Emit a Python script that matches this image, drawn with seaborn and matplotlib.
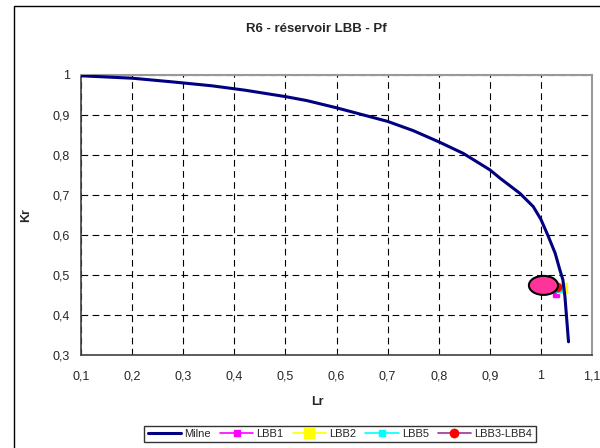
import matplotlib
matplotlib.use("Agg")
import matplotlib.pyplot as plt
from matplotlib.patches import Ellipse, Rectangle
from matplotlib.ticker import FuncFormatter, MultipleLocator
import pandas as pd
import seaborn as sns

# Milne curve
milne_lr = [0.1, 0.2, 0.277, 0.356, 0.421, 0.5, 0.542, 0.6, 0.7, 0.75, 0.8,
            0.848, 0.9, 0.92, 0.959, 0.985, 1.0, 1.014, 1.028, 1.037,
            1.043, 1.047, 1.054]
milne_kr = [0.998, 0.992, 0.983, 0.973, 0.962, 0.946, 0.936, 0.918, 0.884,
            0.861, 0.833, 0.804, 0.763, 0.742, 0.704, 0.671, 0.639, 0.598,
            0.554, 0.513, 0.488, 0.446, 0.333]

# single points
point_names = ["LBB1", "LBB2", "LBB5", "LBB3-LBB4"]
point_lr = [1.029, 1.041, 1.035, 1.031]
point_kr = [0.452, 0.467, 0.465, 0.471]

# highlight ellipse drawn over the points
ellipse_center = (1.005, 0.474)
ellipse_size = (0.057, 0.0475)

sns.set_style("white")
plt.rcParams["font.family"] = ["Liberation Sans", "DejaVu Sans"]

fig = plt.figure(figsize=(6, 4.48), dpi=100)
ax = fig.add_axes([0.135, 0.2076, 0.8517, 0.625])

# chart area border
fig.patches.append(Rectangle((14 / 600, -0.05), 1.0, 1.05 - 6 / 448,
                             transform=fig.transFigure, fill=False,
                             edgecolor="black", linewidth=1.0))

df = pd.DataFrame({"Lr": milne_lr, "Kr": milne_kr})

styles = {
    "LBB1": dict(color="#ff00ff", marker="s", markersize=5, mfc="#ff00ff", mec="#ff00ff"),
    "LBB2": dict(color="#ffff00", marker="s", markersize=7, mfc="#ffff00", mec="#ffff00"),
    "LBB5": dict(color="#00ffff", marker="s", markersize=4, mfc="#00ffff", mec="#00ffff"),
    "LBB3-LBB4": dict(color="#993399", marker="o", markersize=6, mfc="#ff0000", mec="#ff0000"),
}

sns.lineplot(data=df, x="Lr", y="Kr", sort=False, ax=ax, color="#000080",
             linewidth=2.2, label="Milne", zorder=4)
for name, lr, kr in zip(point_names, point_lr, point_kr):
    ax.plot([lr], [kr], linewidth=1.2, label=name, zorder=3, **styles[name])

ax.add_patch(Ellipse(ellipse_center, ellipse_size[0], ellipse_size[1],
                     facecolor="#ff3399", edgecolor="black", linewidth=1.5, zorder=5))

ax.set_xlim(0.1, 1.1)
ax.set_ylim(0.3, 1.0)
ax.xaxis.set_major_locator(MultipleLocator(0.1))
ax.yaxis.set_major_locator(MultipleLocator(0.1))
fmt = FuncFormatter(lambda v, p: f"{round(v, 2):g}".replace(".", ","))
ax.xaxis.set_major_formatter(fmt)
ax.yaxis.set_major_formatter(fmt)

ax.grid(True, color="black", linestyle=(0, (6, 4)), linewidth=0.8)
ax.set_axisbelow(True)
for side in ["top", "right"]:
    ax.spines[side].set_color("#999999")
    ax.spines[side].set_linewidth(1.5)
for side in ["left", "bottom"]:
    ax.spines[side].set_color("#404040")
    ax.spines[side].set_linewidth(1.2)

ax.tick_params(axis="both", direction="inout", length=6, width=1,
               color="#404040", labelsize=9, pad=5)
ax.tick_params(axis="x", pad=8)

ax.set_xlabel("Lr", fontsize=9, fontweight="bold")
ax.set_ylabel("Kr", fontsize=9, fontweight="bold")
ax.xaxis.set_label_coords((317 - 81) / 511, -0.145)
ax.yaxis.set_label_coords((32 - 81) / 511, (355 - 215) / 280)

fig.text(316 / 600, 1 - 29 / 448, "R6 - réservoir LBB - Pf", ha="center",
         va="center", fontsize=9.5, fontweight="bold")

leg = ax.legend(loc="center", bbox_to_anchor=(340 / 600, 1 - 434 / 448),
                bbox_transform=fig.transFigure, ncol=5, fontsize=8,
                frameon=True, fancybox=False, edgecolor="black",
                handlelength=3, handletextpad=0.3, columnspacing=0.8,
                borderpad=0.3)
leg.get_frame().set_linewidth(1.0)

fig.savefig("out.png", dpi=100)
